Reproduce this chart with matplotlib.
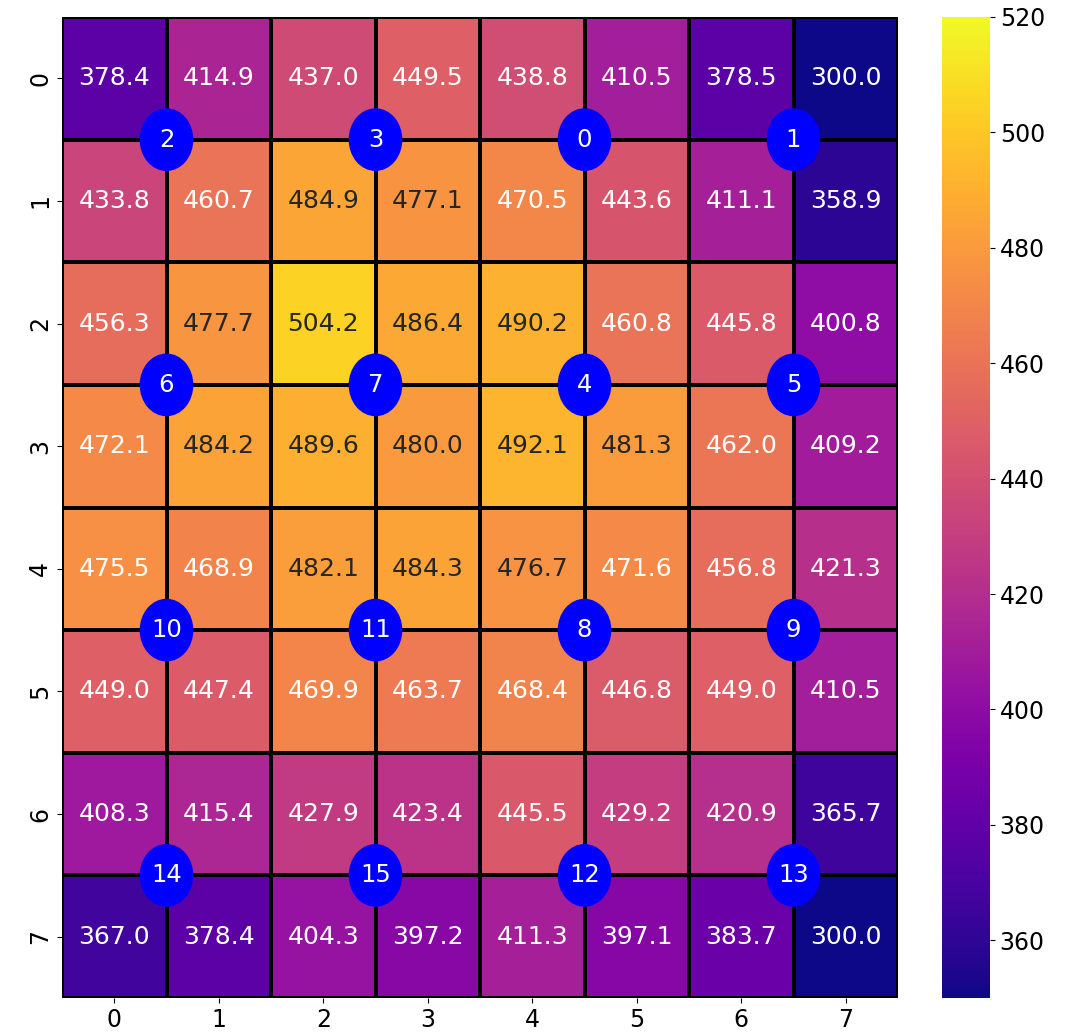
import matplotlib
matplotlib.use("Agg")
import matplotlib.pyplot as plt
from matplotlib.patches import Circle
import numpy as np
import seaborn as sns

# grid values (rows 0..7, columns 0..7)
row0 = [378.4, 414.9, 437.0, 449.5, 438.8, 410.5, 378.5, 300.0]
row1 = [433.8, 460.7, 484.9, 477.1, 470.5, 443.6, 411.1, 358.9]
row2 = [456.3, 477.7, 504.2, 486.4, 490.2, 460.8, 445.8, 400.8]
row3 = [472.1, 484.2, 489.6, 480.0, 492.1, 481.3, 462.0, 409.2]
row4 = [475.5, 468.9, 482.1, 484.3, 476.7, 471.6, 456.8, 421.3]
row5 = [449.0, 447.4, 469.9, 463.7, 468.4, 446.8, 449.0, 410.5]
row6 = [408.3, 415.4, 427.9, 423.4, 445.5, 429.2, 420.9, 365.7]
row7 = [367.0, 378.4, 404.3, 397.2, 411.3, 397.1, 383.7, 300.0]

# marker nodes sitting on cell corners
node_x = [5, 7, 1, 3, 5, 7, 1, 3, 5, 7, 1, 3, 5, 7, 1, 3]
node_y = [1, 1, 1, 1, 3, 3, 3, 3, 5, 5, 5, 5, 7, 7, 7, 7]
node_id = list(range(16))

grid = np.array([row0, row1, row2, row3, row4, row5, row6, row7])

fig = plt.figure(figsize=(10.71, 10.33), dpi=100)
ax = fig.add_axes([62 / 1071, 35 / 1033, 836 / 1071, 981 / 1033])
cax = fig.add_axes([942 / 1071, 35 / 1033, 48 / 1071, 981 / 1033])

sns.heatmap(grid, ax=ax, cbar_ax=cax, cmap="plasma", vmin=350, vmax=520,
            annot=True, fmt=".1f", annot_kws={"fontsize": 18},
            linewidths=1.5, linecolor="black")

for x, y, n in zip(node_x, node_y, node_id):
    ax.add_patch(Circle((x, y), 0.25, color="blue", zorder=5, clip_on=False))
    ax.text(x, y, str(n), color="white", fontsize=17.5, ha="center",
            va="center", zorder=6)

ax.tick_params(labelsize=17)
cax.tick_params(labelsize=17)
cax.set_yticks([360, 380, 400, 420, 440, 460, 480, 500, 520])

fig.savefig("out.png", dpi=100)
